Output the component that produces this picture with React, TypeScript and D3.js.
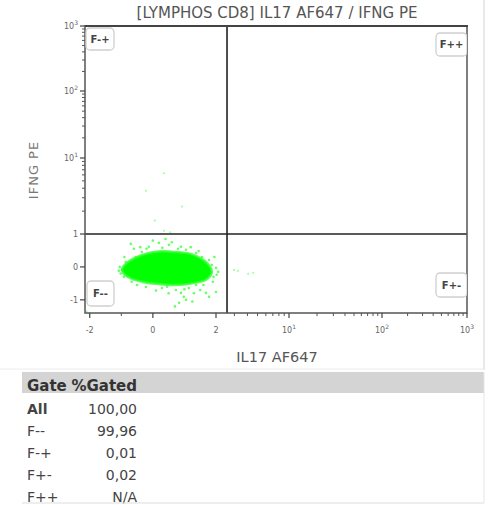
import React from "react";
import * as d3 from "d3";

// ---------- data ----------
const title = "[LYMPHOS CD8] IL17 AF647 / IFNG PE";
const xLabel = "IL17 AF647";
const yLabel = "IFNG PE";

// x ticks (biexponential axis)
const xMajorTicks = [-2, 0, 2, 10, 100, 1000];
const xMajorLabels = ["-2", "0", "2", "10|1", "10|2", "10|3"];
const xMinorTicks = [-1, 1, 3, 4, 5, 6, 7, 8, 9, 20, 30, 40, 50, 60, 70, 80, 90, 200, 300, 400, 500, 600, 700, 800, 900];
// y ticks
const yMajorTicks = [-1, 0, 1, 10, 100, 1000];
const yMajorLabels = ["-1", "0", "1", "10|1", "10|2", "10|3"];
const yMinorTicks = [2, 3, 4, 5, 6, 7, 8, 9, 20, 30, 40, 50, 60, 70, 80, 90, 200, 300, 400, 500, 600, 700, 800, 900];

// quadrant gate thresholds
const gateX = 2.55;
const gateY = 1;

// dense core of the population (outline, data units)
const coreOutline: [number, number][] = [
  [-0.98, -0.09], [-0.8, 0.14], [-0.35, 0.36], [0.19, 0.47], [0.73, 0.45], [1.24, 0.38],
  [1.68, 0.15], [1.87, -0.15], [1.68, -0.39], [1.24, -0.5], [0.73, -0.55], [0.19, -0.52],
  [-0.35, -0.45], [-0.8, -0.3],
];

// sparse events around the core (data units)
const fringeEvents: [number, number][] = [
  [-0.7, 0.7], [-0.13, 0.61], [0.19, 0.73], [0.51, 0.67], [0.89, 0.61], [1.05, 0.52], [1.37, 0.42],
  [1.56, 0.3], [1.78, 0.21], [1.87, 0.06], [-0.35, 0.45], [-0.54, 0.3], [-0.86, 0.15], [-0.98, -0.09],
  [-0.92, -0.3], [-0.67, -0.45], [-0.22, -0.61], [0.29, -0.64], [0.73, -0.7], [0.89, -0.79],
  [0.98, -0.91], [0.83, -1.09], [1.05, -1.0], [1.14, -0.64], [1.37, -0.55], [1.68, -0.79],
  [1.78, -0.91], [2.0, -0.76], [2.03, -0.24], [2.0, -0.03], [2.1, -0.15], [-1.05, 0.0],
  [-0.6, 0.55], [0.0, 0.8], [0.4, 0.85], [1.2, 0.6], [1.5, -0.7], [0.5, -0.8], [1.95, 0.3],
  [-1.02, -0.2], [1.9, -0.45], [0.6, 0.75], [-0.4, 0.6], [1.3, -0.8], [0.1, -0.72],
  [-0.9, 0.3], [-0.2, 0.55], [0.3, 0.58], [0.8, 0.55], [1.45, 0.48], [1.92, -0.3], [1.6, -0.55],
  [1.0, -0.68], [0.45, -0.6], [-0.5, -0.55], [-1.08, -0.12], [0.7, -1.2], [1.25, -1.05],
];

// isolated events
const outlierEvents: [number, number][] = [
  [0.35, 6.3], [-0.22, 3.7], [0.92, 2.3], [0.06, 1.5], [0.35, 1.1], [0.55, 1.05],
  [2.98, -0.09], [3.25, -0.12], [4.06, -0.21], [4.54, -0.18], [-2.1, -1.35],
];

// gate labels
const gateNames = ["F-+", "F++", "F--", "F+-"];

// statistics table
const tableGates = ["All", "F--", "F-+", "F+-", "F++"];
const tableValues = ["100,00", "99,96", "0,01", "0,02", "N/A"];

// ---------- scales ----------
const plotLeft = 85, plotRight = 467, plotTop = 26, plotBottom = 313;
const xLin = d3.scaleLinear().domain([-2.15, 2]).range([plotLeft, 216]);
const xLog = d3.scaleLinear().domain([Math.log10(2), 1, 2, 3]).range([216, 289, 382, plotRight]);
const xPos = (v: number) => (v <= 2 ? xLin(v) : xLog(Math.log10(v)));
const yLin = d3.scaleLinear().domain([-1.4, 1]).range([plotBottom, 234]);
const yLog = d3.scaleLinear().domain([0, 1, 2, 3]).range([234, 158, 91, plotTop]);
const yPos = (v: number) => (v <= 1 ? yLin(v) : yLog(Math.log10(v)));

const FONT = "'DejaVu Sans', Verdana, sans-serif";

function TickLabel({ x, y, label, anchor }: { x: number; y: number; label: string; anchor: string }) {
  const [base, sup] = label.split("|");
  return (
    <text x={x} y={y} fontSize={8} fill="#666" textAnchor={anchor} fontFamily={FONT}>
      {base}
      {sup !== undefined && (
        <tspan fontSize={6} dy={-4}>
          {sup}
        </tspan>
      )}
    </text>
  );
}

export default function App() {
  const coreLine = d3
    .line<[number, number]>()
    .x((d) => xPos(d[0]))
    .y((d) => yPos(d[1]))
    .curve(d3.curveCatmullRomClosed.alpha(0.5));

  const gx = xPos(gateX);
  const gy = yPos(gateY);

  const boxes = [
    { name: gateNames[0], x: 86, y: 28, w: 28, h: 22 },
    { name: gateNames[1], x: 436, y: 33, w: 31, h: 23 },
    { name: gateNames[2], x: 87, y: 281, w: 27, h: 25 },
    { name: gateNames[3], x: 436, y: 273, w: 31, h: 24 },
  ];

  return (
    <svg
      width={491}
      height={505}
      style={{ position: "absolute", left: 0, top: 0, background: "#fff" }}
      fontFamily={FONT}
    >
      <defs>
        <clipPath id="plotClip">
          <rect x={plotLeft} y={plotTop} width={plotRight - plotLeft} height={plotBottom - plotTop} />
        </clipPath>
      </defs>
      {/* panel border */}
      <line x1={484} y1={0} x2={484} y2={370} stroke="#e2e2e2" strokeWidth={1.5} />
      <line x1={0} y1={369} x2={484} y2={369} stroke="#ececec" strokeWidth={1} />

      {/* title */}
      <text x={277} y={18} textAnchor="middle" fontSize={15} fill="#555">
        {title}
      </text>

      {/* events */}
      <g clipPath="url(#plotClip)">
        <path d={coreLine(coreOutline) || ""} fill="#00ff00" stroke="#33ff33" strokeWidth={2.5} strokeOpacity={0.8} />
        {fringeEvents.map((d, i) => (
          <circle key={"f" + i} cx={xPos(d[0])} cy={yPos(d[1])} r={1.3} fill="#33ff33" opacity={0.75} />
        ))}
        {outlierEvents.map((d, i) => (
          <circle key={"o" + i} cx={xPos(d[0])} cy={yPos(d[1])} r={1.1} fill="#66ff66" opacity={0.6} />
        ))}
      </g>

      {/* gates */}
      <line x1={gx} y1={plotTop} x2={gx} y2={plotBottom} stroke="#222" strokeWidth={1.6} />
      <line x1={plotLeft} y1={gy} x2={plotRight} y2={gy} stroke="#222" strokeWidth={1.6} />

      {/* frame */}
      <rect
        x={plotLeft}
        y={plotTop}
        width={plotRight - plotLeft}
        height={plotBottom - plotTop}
        fill="none"
        stroke="#555"
        strokeWidth={1.5}
      />
      <line x1={plotLeft} y1={plotTop} x2={plotRight + 1} y2={plotTop} stroke="#444" strokeWidth={2} />

      {/* gate name boxes */}
      <g clipPath="url(#plotClip)">
        {boxes.map((b) => (
          <g key={b.name}>
            <rect x={b.x} y={b.y} width={b.w} height={b.h} rx={4} fill="#fff" stroke="#cfcfcf" strokeWidth={1.3} />
            <text
              x={b.x + b.w / 2}
              y={b.y + b.h / 2 + 3.5}
              textAnchor="middle"
              fontSize={10}
              fontWeight="bold"
              fill="#444"
            >
              {b.name}
            </text>
          </g>
        ))}
      </g>

      {/* x axis ticks */}
      {xMajorTicks.map((t, i) => (
        <g key={"xM" + i}>
          <line x1={xPos(t)} x2={xPos(t)} y1={plotBottom} y2={plotBottom + 5} stroke="#444" strokeWidth={1.2} />
          <TickLabel x={xPos(t)} y={333} label={xMajorLabels[i]} anchor="middle" />
        </g>
      ))}
      {xMinorTicks.map((t, i) => (
        <line key={"xm" + i} x1={xPos(t)} x2={xPos(t)} y1={plotBottom} y2={plotBottom + 3} stroke="#555" strokeWidth={1} />
      ))}

      {/* y axis ticks */}
      {yMajorTicks.map((t, i) => (
        <g key={"yM" + i}>
          <line x1={plotLeft - 5} x2={plotLeft} y1={yPos(t)} y2={yPos(t)} stroke="#444" strokeWidth={1.2} />
          <TickLabel x={plotLeft - 7} y={yPos(t) + 3} label={yMajorLabels[i]} anchor="end" />
        </g>
      ))}
      {yMinorTicks.map((t, i) => (
        <line key={"ym" + i} x1={plotLeft - 3} x2={plotLeft} y1={yPos(t)} y2={yPos(t)} stroke="#555" strokeWidth={1} />
      ))}

      {/* axis labels */}
      <text x={277} y={362} textAnchor="middle" fontSize={14.5} fill="#555">
        {xLabel}
      </text>
      <text
        transform="translate(38,170) rotate(-90)"
        textAnchor="middle"
        fontSize={13}
        fill="#777"
        letterSpacing={1}
      >
        {yLabel}
      </text>

      {/* statistics table */}
      <rect x={22} y={372} width={462} height={21} fill="#d4d4d4" />
      <text x={27} y={391} fontSize={15} fontWeight="bold" fill="#333">
        Gate
      </text>
      <text x={137} y={391} fontSize={15} fontWeight="bold" fill="#333" textAnchor="end">
        %Gated
      </text>
      {tableGates.map((g, i) => (
        <g key={"r" + i}>
          <text x={27} y={414 + i * 22} fontSize={14} fill="#444" fontWeight={i === 0 ? "bold" : "normal"}>
            {g}
          </text>
          <text x={137} y={414 + i * 22} fontSize={14} fill="#444" textAnchor="end">
            {tableValues[i]}
          </text>
        </g>
      ))}
      <line x1={22} y1={503} x2={484} y2={503} stroke="#ddd" strokeWidth={1} />
      <line x1={484} y1={372} x2={484} y2={503} stroke="#e6e6e6" strokeWidth={1} />
    </svg>
  );
}
